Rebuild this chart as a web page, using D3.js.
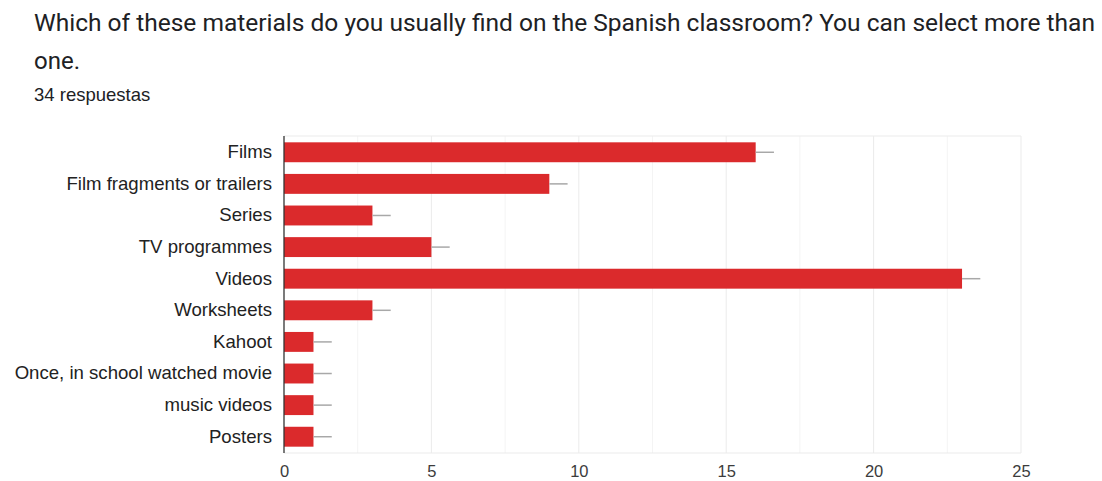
<!DOCTYPE html>
<html>
<head>
<meta charset="utf-8">
<script src="https://cdn.jsdelivr.net/npm/d3@7"></script>
<style>
  body { margin: 0; background: #fff; }
</style>
</head>
<body>
<script>
// data
var categories = ["Films", "Film fragments or trailers", "Series", "TV programmes", "Videos",
    "Worksheets", "Kahoot", "Once, in school watched movie", "music videos", "Posters"];
var counts = [16, 9, 3, 5, 23, 3, 1, 1, 1, 1];
var errors = [0.62, 0.62, 0.62, 0.62, 0.62, 0.62, 0.62, 0.62, 0.62, 0.62];
var xTicks = [0, 5, 10, 15, 20, 25];
var gridValues = [2.5, 5, 7.5, 10, 12.5, 15, 17.5, 20, 22.5, 25];

function main(){
    var canvasWidth = 1102;
    var canvasHeight = 481;

    var svg = d3.select("body").append("svg")
        .attr("width", canvasWidth)
        .attr("height", canvasHeight)

    // title + subtitle
    svg.append("text")
        .attr("x", 34)
        .attr("y", 31)
        .attr("font-size", "24px")
        .attr("font-family", "Roboto, sans-serif")
        .attr("fill", "#202124")
        .attr("textLength", 1061)
        .attr("lengthAdjust", "spacingAndGlyphs")
        .text("Which of these materials do you usually find on the Spanish classroom? You can select more than")
    svg.append("text")
        .attr("x", 34)
        .attr("y", 69)
        .attr("font-size", "24px")
        .attr("font-family", "Roboto, sans-serif")
        .attr("fill", "#202124")
        .text("one.")
    svg.append("text")
        .attr("x", 34)
        .attr("y", 101)
        .attr("font-size", "18.5px")
        .attr("font-family", "'Liberation Sans', Arial, sans-serif")
        .attr("fill", "#202124")
        .text("34 respuestas")

    var left = 284, right = 1021, top = 136, bottom = 453;

    var xScale = d3.scaleLinear().domain([0, 25]).range([left, right]);
    var yScale = d3.scaleBand().domain(categories).range([top, bottom])
        .paddingInner(0.37).paddingOuter(0.2);

    var g = svg.append("g");

    // gridlines
    g.selectAll(".grid")
        .data(gridValues)
        .enter().append("line")
        .attr("x1", d => xScale(d))
        .attr("x2", d => xScale(d))
        .attr("y1", top)
        .attr("y2", bottom)
        .attr("stroke", d => d % 5 === 0 ? "#ebebeb" : "#f4f4f4")
        .attr("stroke-width", 1);

    // frame top/bottom
    g.append("line").attr("x1", left).attr("x2", right).attr("y1", top).attr("y2", top)
        .attr("stroke", "#ebebeb");
    g.append("line").attr("x1", left).attr("x2", right).attr("y1", bottom).attr("y2", bottom)
        .attr("stroke", "#ebebeb");

    // bars
    g.selectAll(".bar")
        .data(counts)
        .enter().append("rect")
        .attr("class", "bar")
        .attr("x", xScale(0))
        .attr("y", (d, i) => yScale(categories[i]))
        .attr("width", d => xScale(d) - xScale(0))
        .attr("height", yScale.bandwidth())
        .attr("fill", "#db2a2c");

    // error whiskers
    g.selectAll(".err")
        .data(counts)
        .enter().append("line")
        .attr("x1", d => xScale(d))
        .attr("x2", (d, i) => xScale(d + errors[i]))
        .attr("y1", (d, i) => yScale(categories[i]) + yScale.bandwidth() / 2)
        .attr("y2", (d, i) => yScale(categories[i]) + yScale.bandwidth() / 2)
        .attr("stroke", "#a8a8a8")
        .attr("stroke-width", 1.5);

    // zero axis line
    g.append("line").attr("x1", left).attr("x2", left).attr("y1", top).attr("y2", bottom)
        .attr("stroke", "#333").attr("stroke-width", 1.3);

    // category labels
    var yAxis = svg.append("g")
        .attr("transform", "translate(" + (left - 12) + ",0)")
        .call(d3.axisLeft(yScale).tickSize(0).tickPadding(0));
    yAxis.select(".domain").remove();
    yAxis.selectAll("text")
        .attr("font-size", "18.6px")
        .attr("font-family", "'Liberation Sans', Arial, sans-serif")
        .attr("fill", "#222");

    // x tick labels
    var xAxis = svg.append("g")
        .attr("transform", "translate(0," + bottom + ")")
        .call(d3.axisBottom(xScale).tickValues(xTicks).tickSize(0).tickPadding(12));
    xAxis.select(".domain").remove();
    xAxis.selectAll("text")
        .attr("font-size", "16.5px")
        .attr("font-family", "'Liberation Sans', Arial, sans-serif")
        .attr("fill", "#3c3c3c");
}
main();
</script>
</body>
</html>
